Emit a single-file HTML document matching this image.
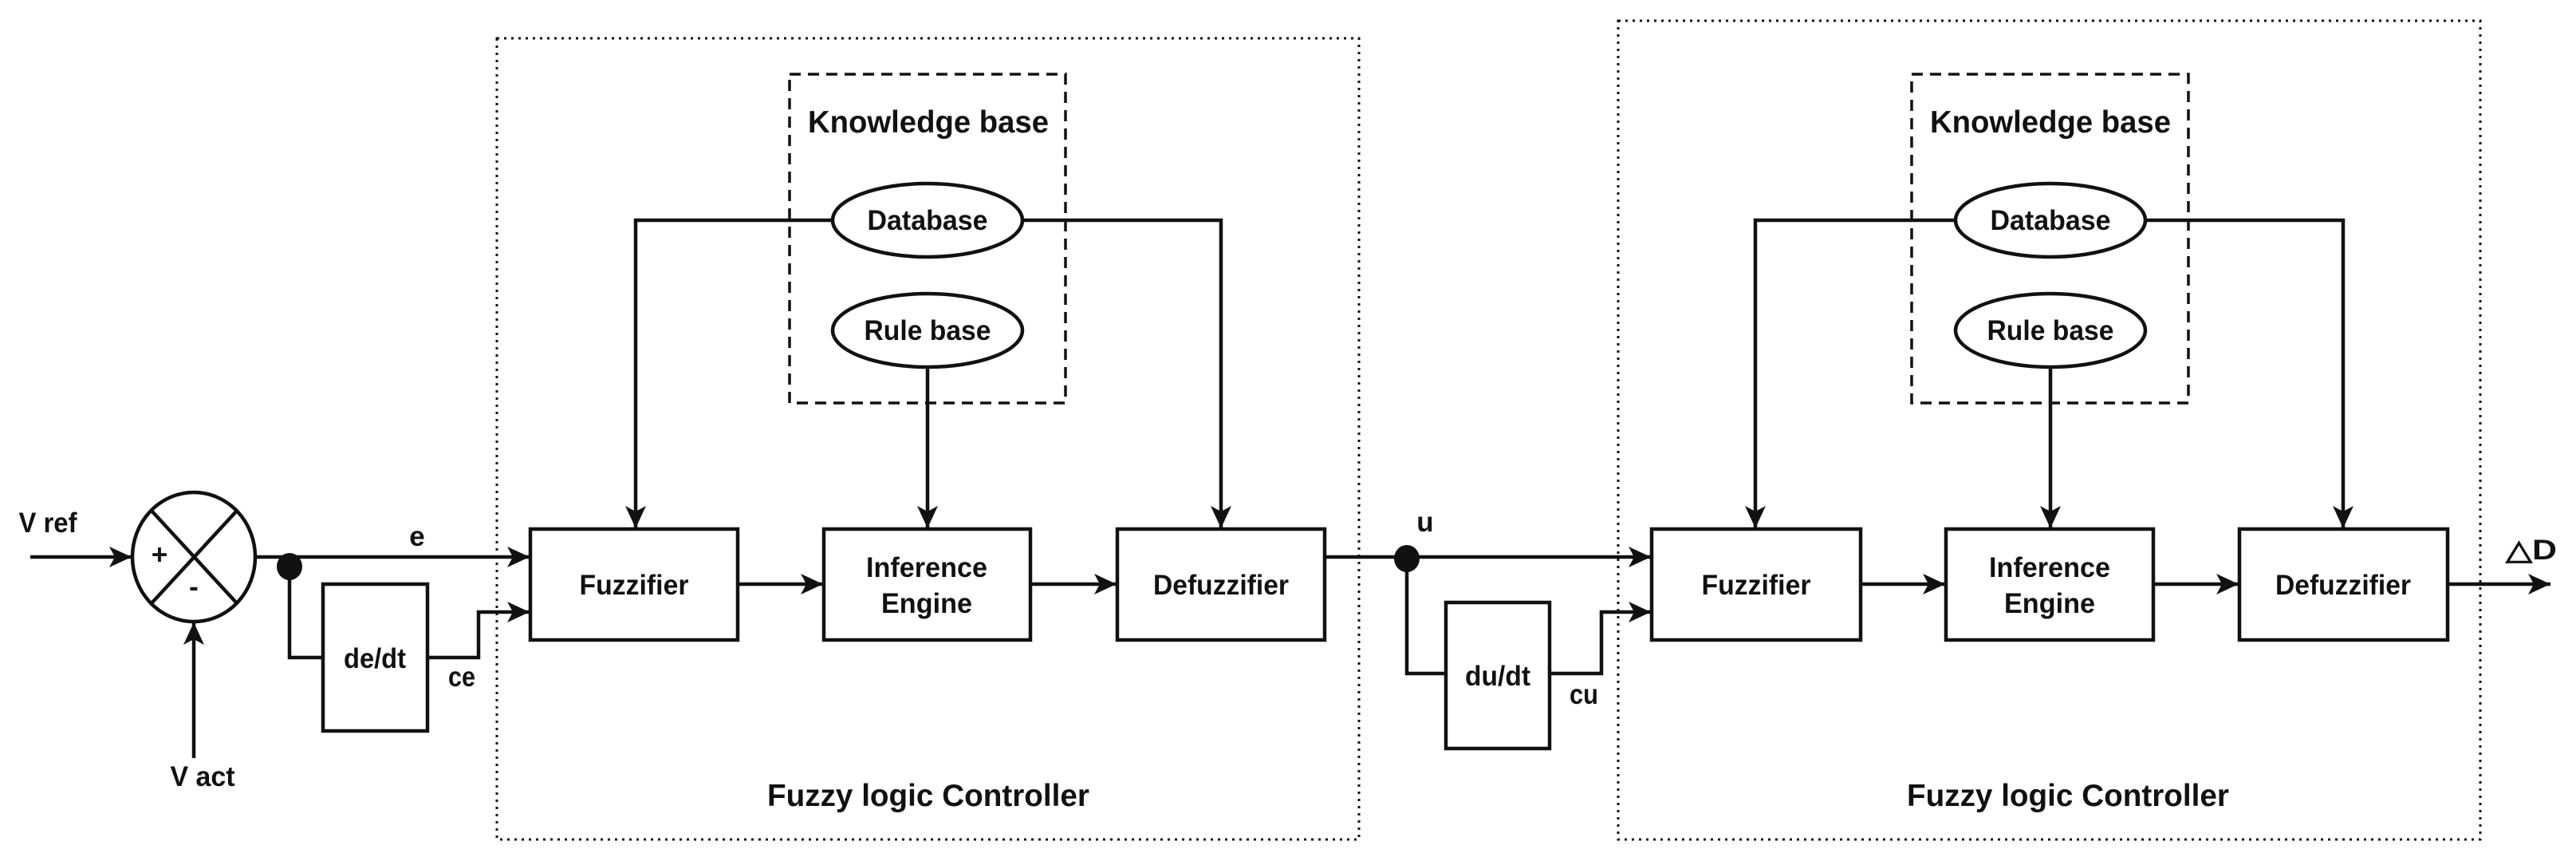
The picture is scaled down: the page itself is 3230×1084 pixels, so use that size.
<!DOCTYPE html>
<html><head><meta charset="utf-8"><style>html,body{margin:0;padding:0;background:#fff}svg{display:block}</style></head>
<body>
<svg width="3230" height="1084" viewBox="0 0 3230 1084" xmlns="http://www.w3.org/2000/svg" font-family="Liberation Sans, Arial, sans-serif" font-weight="bold" fill="#111">
<defs>
<marker id="a" markerWidth="32" markerHeight="32" refX="28" refY="16" orient="auto" markerUnits="userSpaceOnUse">
<path d="M0,3 L28,16 L0,29 L7,16 Z" fill="#111"/>
</marker>
</defs>
<g fill="none" stroke="#111">
<rect x="623" y="48" width="1081" height="1004" stroke-width="3" stroke-dasharray="3,6"/>
<rect x="2029" y="26" width="1081" height="1026" stroke-width="3" stroke-dasharray="3,6"/>
<rect x="990" y="93" width="346" height="412" stroke-width="3.5" stroke-dasharray="14,9"/>
<rect x="2397" y="93" width="347" height="412" stroke-width="3.5" stroke-dasharray="14,9"/>
<g stroke-width="4.5">
<ellipse cx="243" cy="698" rx="77" ry="81"/>
<line x1="190" y1="640" x2="297" y2="756"/>
<line x1="297" y1="640" x2="190" y2="756"/>
<rect x="665" y="663" width="260" height="139"/>
<rect x="1033" y="663" width="259" height="139"/>
<rect x="1401" y="663" width="260" height="139"/>
<rect x="405" y="732" width="131" height="184"/>
<rect x="2071" y="663" width="262" height="139"/>
<rect x="2440" y="663" width="260" height="139"/>
<rect x="2808" y="663" width="261" height="139"/>
<rect x="1813" y="755" width="130" height="183"/>
<ellipse cx="1163" cy="276" rx="119" ry="46"/>
<ellipse cx="1163" cy="414" rx="119" ry="46"/>
<ellipse cx="2571" cy="276" rx="119" ry="46"/>
<ellipse cx="2571" cy="414" rx="119" ry="46"/>
</g>
<g stroke-width="4.5">
<line x1="38" y1="698" x2="165" y2="698" marker-end="url(#a)"/>
<line x1="243" y1="950" x2="243" y2="780" marker-end="url(#a)"/>
<line x1="320" y1="698" x2="664" y2="698" marker-end="url(#a)"/>
<polyline points="363,710 363,824 405,824"/>
<polyline points="536,824 600,824 600,767 664,767" marker-end="url(#a)"/>
<polyline points="1044,276 797,276 797,662" marker-end="url(#a)"/>
<polyline points="1282,276 1531,276 1531,662" marker-end="url(#a)"/>
<line x1="1163" y1="460" x2="1163" y2="662" marker-end="url(#a)"/>
<line x1="925" y1="732" x2="1032" y2="732" marker-end="url(#a)"/>
<line x1="1292" y1="732" x2="1400" y2="732" marker-end="url(#a)"/>
<line x1="1661" y1="698" x2="2070" y2="698" marker-end="url(#a)"/>
<polyline points="1764,700 1764,844 1813,844"/>
<polyline points="1943,844 2008,844 2008,767 2070,767" marker-end="url(#a)"/>
<polyline points="2452,276 2201,276 2201,662" marker-end="url(#a)"/>
<polyline points="2690,276 2938,276 2938,662" marker-end="url(#a)"/>
<line x1="2571" y1="460" x2="2571" y2="662" marker-end="url(#a)"/>
<line x1="2333" y1="732" x2="2439" y2="732" marker-end="url(#a)"/>
<line x1="2700" y1="732" x2="2807" y2="732" marker-end="url(#a)"/>
<line x1="3069" y1="732" x2="3198" y2="732" marker-end="url(#a)"/>
</g>
</g>
<ellipse cx="363" cy="710" rx="16" ry="17" fill="#111"/>
<ellipse cx="1764" cy="700" rx="16" ry="17" fill="#111"/>
<g font-size="35" text-anchor="middle">
<text x="60" y="667" textLength="73" lengthAdjust="spacingAndGlyphs">V ref</text>
<text x="254" y="985" textLength="81" lengthAdjust="spacingAndGlyphs">V act</text>
<text x="200" y="707">+</text>
<text x="243" y="747">-</text>
<text x="523" y="684">e</text>
<text x="579" y="860" textLength="34" lengthAdjust="spacingAndGlyphs">ce</text>
<text x="470" y="837" textLength="78" lengthAdjust="spacingAndGlyphs">de/dt</text>
<text x="1787" y="666">u</text>
<text x="1986" y="882" textLength="36" lengthAdjust="spacingAndGlyphs">cu</text>
<text x="1878" y="859" textLength="82" lengthAdjust="spacingAndGlyphs">du/dt</text>
<text x="3174" y="701" textLength="64" lengthAdjust="spacingAndGlyphs">△D</text>
<text x="795" y="745" textLength="137" lengthAdjust="spacingAndGlyphs">Fuzzifier</text>
<text x="1162" y="723" textLength="152" lengthAdjust="spacingAndGlyphs">Inference</text>
<text x="1162" y="768" textLength="114" lengthAdjust="spacingAndGlyphs">Engine</text>
<text x="1531" y="745" textLength="170" lengthAdjust="spacingAndGlyphs">Defuzzifier</text>
<text x="2202" y="745" textLength="137" lengthAdjust="spacingAndGlyphs">Fuzzifier</text>
<text x="2570" y="723" textLength="152" lengthAdjust="spacingAndGlyphs">Inference</text>
<text x="2570" y="768" textLength="114" lengthAdjust="spacingAndGlyphs">Engine</text>
<text x="2938" y="745" textLength="170" lengthAdjust="spacingAndGlyphs">Defuzzifier</text>
<text x="1163" y="288" textLength="151" lengthAdjust="spacingAndGlyphs">Database</text>
<text x="1163" y="426" textLength="159" lengthAdjust="spacingAndGlyphs">Rule base</text>
<text x="2571" y="288" textLength="151" lengthAdjust="spacingAndGlyphs">Database</text>
<text x="2571" y="426" textLength="159" lengthAdjust="spacingAndGlyphs">Rule base</text>
</g>
<g font-size="39" text-anchor="middle">
<text x="1164" y="166" textLength="302" lengthAdjust="spacingAndGlyphs">Knowledge base</text>
<text x="2571" y="166" textLength="302" lengthAdjust="spacingAndGlyphs">Knowledge base</text>
<text x="1164" y="1010" textLength="404" lengthAdjust="spacingAndGlyphs">Fuzzy logic Controller</text>
<text x="2593" y="1010" textLength="404" lengthAdjust="spacingAndGlyphs">Fuzzy logic Controller</text>
</g>
</svg>
</body></html>
